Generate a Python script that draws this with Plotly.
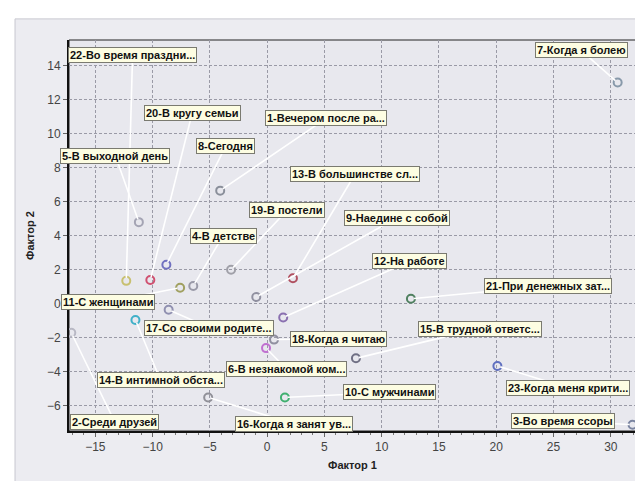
import plotly.graph_objects as go

# ---- data ----
labels = [
    "1-Вечером после ра...", "2-Среди друзей", "3-Во время ссоры", "4-В детстве",
    "5-В выходной день", "6-В незнакомой ком...", "7-Когда я болею", "8-Сегодня",
    "9-Наедине с собой", "10-С мужчинами", "11-С женщинами", "12-На работе",
    "13-В большинстве сл...", "14-В интимной обста...", "15-В трудной ответс...",
    "16-Когда я занят ув...", "17-Со своими родите...", "18-Когда я читаю",
    "19-В постели", "20-В кругу семьи", "21-При денежных зат...",
    "22-Во время праздни...", "23-Когда меня крити...",
]
factor1 = [-4.1, -17.1, 31.9, -6.45, -11.2, -0.1, 30.6, -8.8, -0.95, 1.55, -7.6, 1.4,
           2.25, -11.5, 7.75, -5.15, -8.6, 0.6, -3.15, -10.2, 12.55, -12.3, 20.1]
factor2 = [6.65, -1.7, -7.1, 1.05, 4.8, -2.6, 13.0, 2.3, 0.4, -5.5, 0.95, -0.8,
           1.5, -0.95, -3.2, -5.5, -0.35, -2.1, 2.0, 1.4, 0.3, 1.35, -3.65]
x_ticks = [-15, -10, -5, 0, 5, 10, 15, 20, 25, 30]
y_ticks = [-6, -4, -2, 0, 2, 4, 6, 8, 10, 12, 14]

# ---- label placement (layout, in axis units) ----
label_pos = {
    1: (5.15, 10.9), 2: (-13.3, -6.95), 3: (25.8, -6.9), 4: (-3.85, 4.0),
    5: (-13.25, 8.7), 6: (1.65, -3.8), 7: (27.4, 14.9), 8: (-3.6, 9.3),
    9: (11.3, 5.05), 10: (10.7, -5.2), 11: (-13.9, 0.1), 12: (12.45, 2.5),
    13: (7.65, 7.6), 14: (-9.3, -4.5), 15: (18.55, -1.45), 16: (2.35, -7.05),
    17: (-5.05, -1.4), 18: (6.2, -2.05), 19: (1.75, 5.5), 20: (-6.55, 11.2),
    21: (24.5, 1.05), 22: (-11.75, 14.6), 23: (26.3, -4.95),
}
marker_colors = [
    "#8a8f9a", "#b8b8c4", "#7a84a0", "#9a9aa8", "#a4a4b4", "#c070d0", "#8899aa",
    "#7070c0", "#9090a0", "#40b070", "#a0a060", "#8a70b0", "#b05060", "#40b0c8",
    "#707084", "#909098", "#9090b0", "#9090a0", "#a0a0a8", "#d05070", "#508060",
    "#c8c070", "#6070c0",
]

FONT = "Liberation Sans, Arial, sans-serif"

fig = go.Figure()
fig.add_trace(go.Scatter(
    x=factor1, y=factor2, mode="markers",
    marker=dict(symbol="circle-open", size=8, color=marker_colors,
                line=dict(width=2, color=marker_colors)),
    hovertext=labels, showlegend=False,
))

# connector lines first (so label boxes cover them)
for i, (xv, yv) in enumerate(zip(factor1, factor2), start=1):
    lx, ly = label_pos[i]
    fig.add_annotation(
        x=xv, y=yv, ax=lx, ay=ly, axref="x", ayref="y", xref="x", yref="y",
        text="", showarrow=True, arrowhead=0, arrowwidth=1.6,
        arrowcolor="white", standoff=3,
    )
# label boxes
for i, lab in enumerate(labels, start=1):
    lx, ly = label_pos[i]
    fig.add_annotation(
        x=lx, y=ly, xref="x", yref="y", showarrow=False,
        text="<b>%s</b>" % lab,
        font=dict(family=FONT, size=11, color="#111"),
        bgcolor="#fdfde2", bordercolor="#7a7a70", borderwidth=1, borderpad=1,
    )

# outer panel
fig.add_shape(type="rect", xref="paper", yref="paper",
              x0=-0.0952, x1=1.05, y0=-0.2, y1=1.054,
              fillcolor="#ececf1", line=dict(color="#c8c8d0", width=1), layer="below")
# plot area frame
fig.add_shape(type="rect", xref="paper", yref="paper", x0=0, x1=1, y0=0, y1=1,
              fillcolor="#e8e8ee", line=dict(color="#222", width=1), layer="below")

axis_common = dict(
    showgrid=True, gridcolor="#9a9aa6", griddash="3px,2px", gridwidth=1,
    zeroline=False, showline=True, linecolor="#111", linewidth=2,
    ticks="outside", ticklen=4, tickcolor="#666",
    tickfont=dict(family=FONT, size=12, color="#444"),
)
fig.update_xaxes(range=[-17.3, 32.2], tickvals=x_ticks, **axis_common,
                 minor=dict(dtick=1, ticks="outside", ticklen=2, tickcolor="#777", showgrid=False),
                 title=dict(text="<b>Фактор 1</b>", font=dict(family=FONT, size=11, color="#222"), standoff=8))
fig.update_yaxes(range=[-7.47, 15.5], tickvals=y_ticks, **axis_common,
                 title=dict(text="<b>Фактор 2</b>", font=dict(family=FONT, size=11, color="#222"), standoff=10))

fig.update_layout(
    width=643, height=481,
    margin=dict(l=61, r=15, t=32, b=58),
    paper_bgcolor="white", plot_bgcolor="#e8e8ee",
    font=dict(family=FONT),
)
fig.write_html("out.html")
